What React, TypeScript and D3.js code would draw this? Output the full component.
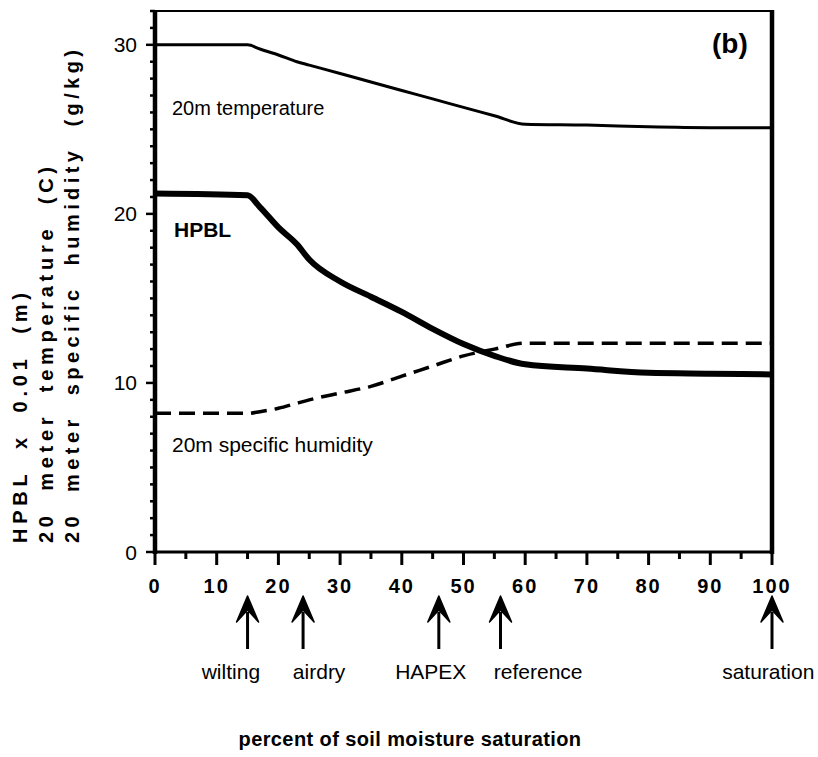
import React from "react";
import * as d3 from "d3";

const moisture = [0, 15, 17, 20, 23, 25, 30, 35, 40, 45, 50, 55, 60, 70, 80, 90, 100];
const temperature = [30, 30, 29.75, 29.4, 29.0, 28.8, 28.3, 27.8, 27.3, 26.8, 26.3, 25.8, 25.3, 25.25, 25.15, 25.1, 25.1];
const hpbl = [21.2, 21.1, 20.4, 19.2, 18.2, 17.3, 16.0, 15.1, 14.2, 13.2, 12.3, 11.6, 11.1, 10.85, 10.6, 10.55, 10.5];
const humidity = [8.2, 8.2, 8.3, 8.5, 8.8, 9.0, 9.4, 9.8, 10.4, 11.0, 11.6, 12.0, 12.35, 12.35, 12.35, 12.35, 12.35];

const markerPositions = [15, 24, 46, 56, 100];
const markerLabels = ["wilting", "airdry", "HAPEX", "reference", "saturation"];
const markerLabelAt = [12.3, 26.6, 44.7, 62.1, 99.4];

const xTicks = [0, 10, 20, 30, 40, 50, 60, 70, 80, 90, 100];
const yTicks = [0, 10, 20, 30];

const yTitleLines = ["HPBL  x  0.01  (m)", "20  meter  temperature  (C)", "20  meter  specific  humidity  (g/kg)"];

export default function App() {
  const W = 818, H = 757;
  const x = d3.scaleLinear().domain([0, 100]).range([155, 772]);
  const y = d3.scaleLinear().domain([0, 32]).range([552, 11]);

  const mk = (vals: number[]) =>
    d3.line<number>()
      .x((_, i) => x(moisture[i]))
      .y((v) => y(v))
      .curve(d3.curveMonotoneX)(vals) as string;

  const minorY = d3.range(0, 33, 1).filter((v) => v % 10 !== 0);
  const minorX = d3.range(5, 100, 10);
  const sans = "'Liberation Sans', Arial, Helvetica, sans-serif";

  const titleEnds = [293, 167, 50];
  const titleX = [27, 53, 79];

  return (
    <svg width={W} height={H} style={{ position: "absolute", left: 0, top: 0, background: "#fff" }} fontFamily={sans}>
      {/* frame */}
      <line x1={x(0)} x2={x(100)} y1={y(32)} y2={y(32)} stroke="#000" strokeWidth={2} />
      <line x1={x(100)} x2={x(100)} y1={y(32) - 1} y2={y(0) + 2} stroke="#000" strokeWidth={4.5} />
      <line x1={x(0)} x2={x(0)} y1={y(32) - 1} y2={y(0) + 2} stroke="#000" strokeWidth={4.5} />
      <line x1={x(0) - 2} x2={x(100) + 2} y1={y(0)} y2={y(0)} stroke="#000" strokeWidth={3} />

      {/* y ticks */}
      {yTicks.map((t) => (
        <g key={"yt" + t}>
          <line x1={x(0) - 9} x2={x(0)} y1={y(t)} y2={y(t)} stroke="#000" strokeWidth={2.5} />
          <text x={137} y={y(t)} dy="0.36em" textAnchor="end" fontSize={21}>{t}</text>
        </g>
      ))}
      {minorY.map((t) => (
        <line key={"ym" + t} x1={x(0) - 5} x2={x(0)} y1={y(t)} y2={y(t)} stroke="#000" strokeWidth={2.5} />
      ))}

      {/* x ticks */}
      {xTicks.map((t) => (
        <g key={"xt" + t}>
          <line x1={x(t)} x2={x(t)} y1={y(0)} y2={y(0) + 13} stroke="#000" strokeWidth={3} />
          <text x={x(t)} y={593} textAnchor="middle" fontSize={20} fontWeight="bold" letterSpacing={2}>{t}</text>
        </g>
      ))}
      {minorX.map((t) => (
        <line key={"xm" + t} x1={x(t)} x2={x(t)} y1={y(0)} y2={y(0) + 7} stroke="#000" strokeWidth={3} />
      ))}

      {/* series */}
      <path d={mk(temperature)} fill="none" stroke="#000" strokeWidth={3} />
      <path d={mk(hpbl)} fill="none" stroke="#000" strokeWidth={6} />
      <path d={mk(humidity)} fill="none" stroke="#000" strokeWidth={3.5} strokeDasharray="16,8" />

      {/* in-plot labels */}
      <text x={172} y={115} fontSize={20}>20m temperature</text>
      <text x={174} y={237} fontSize={21} fontWeight="bold">HPBL</text>
      <text x={172} y={452} fontSize={21}>20m specific humidity</text>
      <text x={712} y={53} fontSize={28} fontWeight="bold">(b)</text>

      {/* arrows */}
      {markerPositions.map((p, i) => (
        <g key={"ar" + i}>
          <line x1={x(p)} x2={x(p)} y1={612} y2={649} stroke="#000" strokeWidth={3} />
          <path d={`M${x(p)},596 L${x(p) + 11},622 L${x(p)},610 L${x(p) - 11},622 Z`} fill="#000" stroke="#000" strokeWidth={1.5} strokeLinejoin="round" />
          <text x={x(markerLabelAt[i])} y={679} textAnchor="middle" fontSize={21}>{markerLabels[i]}</text>
        </g>
      ))}

      {/* x title */}
      <text x={410} y={746} textAnchor="middle" fontSize={20} fontWeight="bold" letterSpacing={0.4}>percent of soil moisture saturation</text>

      {/* y title */}
      {yTitleLines.map((s, i) => (
        <text
          key={"ytl" + i}
          transform={`translate(${titleX[i]},543) rotate(-90)`}
          fontSize={20}
          fontWeight="bold"
          textLength={543 - titleEnds[i]}
          lengthAdjust="spacing"
          style={{ whiteSpace: "pre" }}
        >{s}</text>
      ))}
    </svg>
  );
}
